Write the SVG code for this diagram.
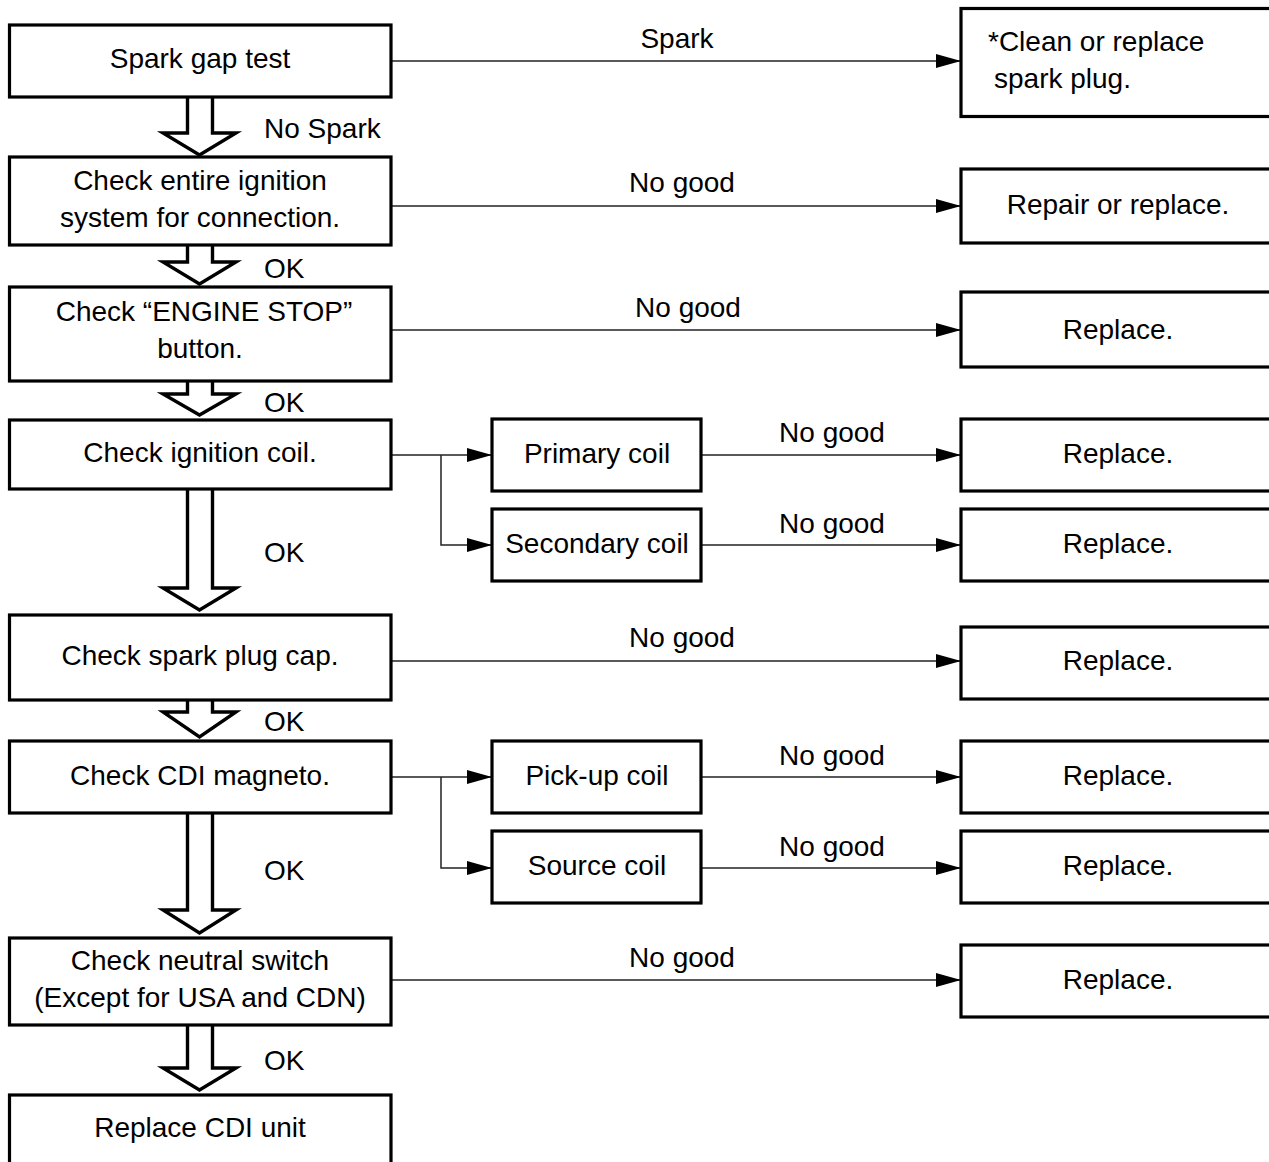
<svg xmlns="http://www.w3.org/2000/svg" width="1269" height="1162" viewBox="0 0 1269 1162">
<defs>
<style>
.box{fill:#fff;stroke:#000;stroke-width:3.2}
.t{font-family:"Liberation Sans",Arial,sans-serif;font-size:28px;fill:#000}
.c{text-anchor:middle}
.con{fill:none;stroke:#222;stroke-width:1.5}
.big{fill:#fff;stroke:#000;stroke-width:3.4;stroke-linejoin:miter}
</style>
<marker id="ah" markerUnits="userSpaceOnUse" markerWidth="25" markerHeight="14" refX="25" refY="7" orient="auto">
<path d="M0,0 L25,7 L0,14 z" fill="#000"/>
</marker>
</defs>
<rect width="1269" height="1162" fill="#fff"/>

<g id="connectors">
<line class="con" x1="391" y1="61" x2="961" y2="61" marker-end="url(#ah)"/>
<line class="con" x1="391" y1="206" x2="961" y2="206" marker-end="url(#ah)"/>
<line class="con" x1="391" y1="330" x2="961" y2="330" marker-end="url(#ah)"/>
<line class="con" x1="391" y1="455" x2="492" y2="455" marker-end="url(#ah)"/>
<polyline class="con" points="441,455 441,545 492,545" marker-end="url(#ah)"/>
<line class="con" x1="701" y1="455" x2="961" y2="455" marker-end="url(#ah)"/>
<line class="con" x1="701" y1="545" x2="961" y2="545" marker-end="url(#ah)"/>
<line class="con" x1="391" y1="661" x2="961" y2="661" marker-end="url(#ah)"/>
<line class="con" x1="391" y1="777" x2="492" y2="777" marker-end="url(#ah)"/>
<polyline class="con" points="441,777 441,868 492,868" marker-end="url(#ah)"/>
<line class="con" x1="701" y1="777" x2="961" y2="777" marker-end="url(#ah)"/>
<line class="con" x1="701" y1="868" x2="961" y2="868" marker-end="url(#ah)"/>
<line class="con" x1="391" y1="980" x2="961" y2="980" marker-end="url(#ah)"/>

<path class="big" d="M187.5,97 V133 H163 L199.5,155 L236,133 H212.5 V97"/>
<path class="big" d="M187.5,245 V262 H163 L199.5,284 L236,262 H212.5 V245"/>
<path class="big" d="M187.5,381 V394 H163 L199.5,415 L236,394 H212.5 V381"/>
<path class="big" d="M187.5,489 V588 H163 L199.5,610 L236,588 H212.5 V489"/>
<path class="big" d="M187.5,700 V712 H163 L199.5,737 L236,712 H212.5 V700"/>
<path class="big" d="M187.5,813 V910 H163 L199.5,933 L236,910 H212.5 V813"/>
<path class="big" d="M187.5,1025 V1068 H163 L199.5,1090 L236,1068 H212.5 V1025"/>

<text class="t" x="677" y="48" text-anchor="middle">Spark</text>
<text class="t" x="264" y="138">No Spark</text>
<text class="t" x="682" y="192" text-anchor="middle">No good</text>
<text class="t" x="264" y="278">OK</text>
<text class="t" x="688" y="317" text-anchor="middle">No good</text>
<text class="t" x="264" y="412">OK</text>
<text class="t" x="832" y="442" text-anchor="middle">No good</text>
<text class="t" x="832" y="533" text-anchor="middle">No good</text>
<text class="t" x="264" y="562">OK</text>
<text class="t" x="682" y="647" text-anchor="middle">No good</text>
<text class="t" x="264" y="731">OK</text>
<text class="t" x="832" y="765" text-anchor="middle">No good</text>
<text class="t" x="832" y="856" text-anchor="middle">No good</text>
<text class="t" x="264" y="880">OK</text>
<text class="t" x="682" y="967" text-anchor="middle">No good</text>
<text class="t" x="264" y="1070">OK</text>
</g>

<g id="n1"><rect class="box" x="9.5" y="25" width="381.5" height="72"/><text class="t c" x="200" y="68">Spark gap test</text></g>
<g id="n2"><rect class="box" x="9.5" y="157" width="381.5" height="88"/><text class="t c" x="200" y="190">Check entire ignition</text><text class="t c" x="200" y="227">system for connection.</text></g>
<g id="n3"><rect class="box" x="9.5" y="287" width="381.5" height="94"/><text class="t c" x="204" y="321">Check “ENGINE STOP”</text><text class="t c" x="200" y="358">button.</text></g>
<g id="n4"><rect class="box" x="9.5" y="420" width="381.5" height="69"/><text class="t c" x="200" y="462">Check ignition coil.</text></g>
<g id="n5"><rect class="box" x="9.5" y="615" width="381.5" height="85"/><text class="t c" x="200" y="665">Check spark plug cap.</text></g>
<g id="n6"><rect class="box" x="9.5" y="741" width="381.5" height="72"/><text class="t c" x="200" y="785">Check CDI magneto.</text></g>
<g id="n7"><rect class="box" x="9.5" y="938" width="381.5" height="87"/><text class="t c" x="200" y="970">Check neutral switch</text><text class="t c" x="200" y="1007">(Except for USA and CDN)</text></g>
<g id="n8"><rect class="box" x="9.5" y="1095" width="381.5" height="90"/><text class="t c" x="200" y="1137">Replace CDI unit</text></g>

<g id="n9"><rect class="box" x="492" y="419" width="209" height="72"/><text class="t c" x="597" y="463">Primary coil</text></g>
<g id="n10"><rect class="box" x="492" y="509" width="209" height="72"/><text class="t c" x="597" y="553">Secondary coil</text></g>
<g id="n11"><rect class="box" x="492" y="741" width="209" height="72"/><text class="t c" x="597" y="785">Pick-up coil</text></g>
<g id="n12"><rect class="box" x="492" y="831" width="209" height="72"/><text class="t c" x="597" y="875">Source coil</text></g>

<g id="r1"><rect class="box" x="961" y="8.5" width="320" height="108"/><text class="t" x="988" y="51">*Clean or replace</text><text class="t" x="994" y="88">spark plug.</text></g>
<g id="r2"><rect class="box" x="961" y="169" width="320" height="74"/><text class="t c" x="1118" y="214">Repair or replace.</text></g>
<g id="r3"><rect class="box" x="961" y="292" width="320" height="75"/><text class="t c" x="1118" y="339">Replace.</text></g>
<g id="r4"><rect class="box" x="961" y="419" width="320" height="72"/><text class="t c" x="1118" y="463">Replace.</text></g>
<g id="r5"><rect class="box" x="961" y="509" width="320" height="72"/><text class="t c" x="1118" y="553">Replace.</text></g>
<g id="r6"><rect class="box" x="961" y="627" width="320" height="72"/><text class="t c" x="1118" y="670">Replace.</text></g>
<g id="r7"><rect class="box" x="961" y="741" width="320" height="72"/><text class="t c" x="1118" y="785">Replace.</text></g>
<g id="r8"><rect class="box" x="961" y="831" width="320" height="72"/><text class="t c" x="1118" y="875">Replace.</text></g>
<g id="r9"><rect class="box" x="961" y="945" width="320" height="72"/><text class="t c" x="1118" y="989">Replace.</text></g>
</svg>
